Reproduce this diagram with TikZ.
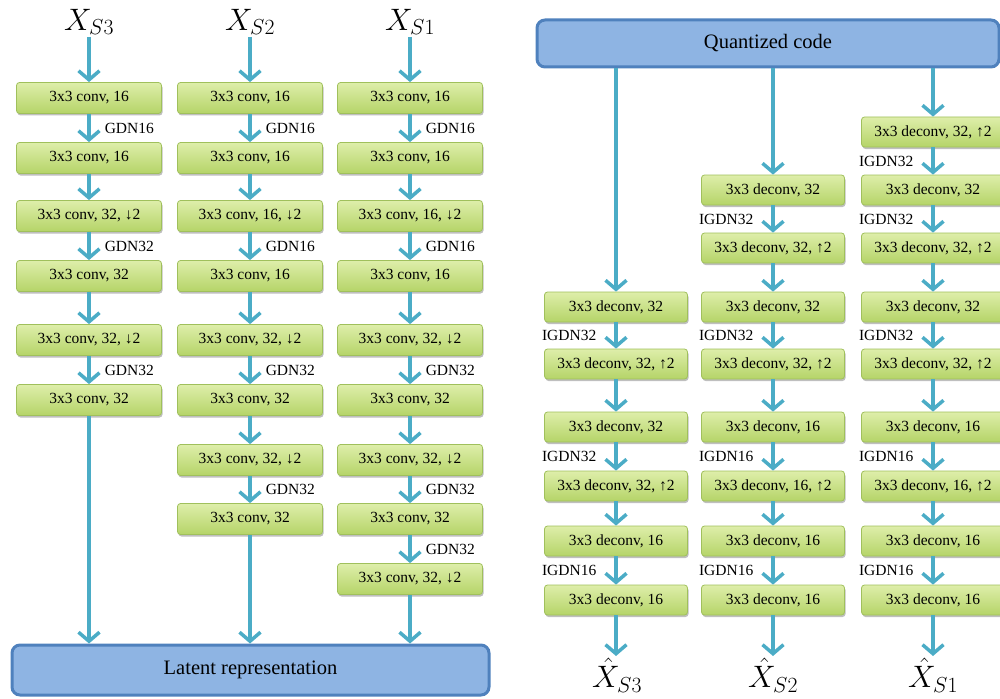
\RequirePackage{fix-cm}
\documentclass[tikz,border=0pt]{standalone}
\usepackage[no-math]{fontspec}
\setmainfont{Liberation Serif}
\newfontfamily\boxfont{Liberation Serif}
\usetikzlibrary{arrows.meta,shadows}
\definecolor{gtop}{RGB}{222,238,170}
\definecolor{gbot}{RGB}{181,212,104}
\definecolor{gborder}{RGB}{160,192,92}
\definecolor{bfill}{RGB}{142,180,227}
\definecolor{bdraw}{RGB}{79,129,189}
\definecolor{arrc}{RGB}{75,172,198}
\tikzset{
  gbox/.style={draw=gborder, line width=0.8pt, rounded corners=3pt, top color=gtop, bottom color=gbot,
    inner sep=0pt, font=\boxfont\fontsize{15.5}{17}\selectfont,
    drop shadow={shadow xshift=1pt, shadow yshift=-2pt, opacity=0.25, fill=black}},
  ebox/.style={gbox, minimum width=145pt, minimum height=31pt},
  dbox/.style={gbox, minimum width=143pt, minimum height=30pt},
  bbox/.style={draw=bdraw, fill=bfill, line width=3pt, rounded corners=8pt, inner sep=0pt,
    font=\boxfont\fontsize{20.5}{23}\selectfont},
  arr/.style={draw=arrc, line width=3.5pt, -{Straight Barb[length=9pt,width=21pt]}},
  glab/.style={right, inner sep=0pt, xshift=14pt, font=\boxfont\fontsize{15.5}{17}\selectfont},
  ilab/.style={left, inner sep=0pt, xshift=-18pt, font=\boxfont\fontsize{15.5}{17}\selectfont},
  mlab/.style={inner sep=0pt, outer sep=2pt, font=\fontsize{31}{33}\selectfont},
}
\begin{document}
\begin{tikzpicture}[x=1pt,y=-1pt]
\useasboundingbox (0,0) rectangle (1000,698);
% ---------------- Encoder ----------------
\node[mlab] (xs3) at (89,22) {$X_{S3}$};
\node[mlab] (xs2) at (250,22) {$X_{S2}$};
\node[mlab] (xs1) at (410,22) {$X_{S1}$};
% column 1
\node[ebox] (e11) at (89,98) {3x3 conv, 16};
\node[ebox] (e12) at (89,158) {3x3 conv, 16};
\node[ebox] (e13) at (89,216) {3x3 conv, 32, ↓2};
\node[ebox] (e14) at (89,276) {3x3 conv, 32};
\node[ebox] (e15) at (89,340) {3x3 conv, 32, ↓2};
\node[ebox] (e16) at (89,400) {3x3 conv, 32};
% column 2
\node[ebox] (e21) at (250,98) {3x3 conv, 16};
\node[ebox] (e22) at (250,158) {3x3 conv, 16};
\node[ebox] (e23) at (250,216) {3x3 conv, 16, ↓2};
\node[ebox] (e24) at (250,276) {3x3 conv, 16};
\node[ebox] (e25) at (250,340) {3x3 conv, 32, ↓2};
\node[ebox] (e26) at (250,400) {3x3 conv, 32};
\node[ebox] (e27) at (250,460) {3x3 conv, 32, ↓2};
\node[ebox] (e28) at (250,519) {3x3 conv, 32};
% column 3
\node[ebox] (e31) at (410,98) {3x3 conv, 16};
\node[ebox] (e32) at (410,158) {3x3 conv, 16};
\node[ebox] (e33) at (410,216) {3x3 conv, 16, ↓2};
\node[ebox] (e34) at (410,276) {3x3 conv, 16};
\node[ebox] (e35) at (410,340) {3x3 conv, 32, ↓2};
\node[ebox] (e36) at (410,400) {3x3 conv, 32};
\node[ebox] (e37) at (410,460) {3x3 conv, 32, ↓2};
\node[ebox] (e38) at (410,519) {3x3 conv, 32};
\node[ebox] (e39) at (410,579) {3x3 conv, 32, ↓2};
\node[bbox, minimum width=477pt, minimum height=50pt] (lat) at (250.5,670) {Latent representation};
% encoder arrows
\draw[arr] (xs3.south) -- (e11.north);
\draw[arr] (xs2.south) -- (e21.north);
\draw[arr] (xs1.south) -- (e31.north);
\draw[arr] (e11.south) -- node[glab] {GDN16} (e12.north);
\draw[arr] (e12.south) -- (e13.north);
\draw[arr] (e13.south) -- node[glab] {GDN32} (e14.north);
\draw[arr] (e14.south) -- (e15.north);
\draw[arr] (e15.south) -- node[glab] {GDN32} (e16.north);
\draw[arr] (e16.south) -- (e16.south |- lat.north);
\draw[arr] (e21.south) -- node[glab] {GDN16} (e22.north);
\draw[arr] (e22.south) -- (e23.north);
\draw[arr] (e23.south) -- node[glab] {GDN16} (e24.north);
\draw[arr] (e24.south) -- (e25.north);
\draw[arr] (e25.south) -- node[glab] {GDN32} (e26.north);
\draw[arr] (e26.south) -- (e27.north);
\draw[arr] (e27.south) -- node[glab] {GDN32} (e28.north);
\draw[arr] (e28.south) -- (e28.south |- lat.north);
\draw[arr] (e31.south) -- node[glab] {GDN16} (e32.north);
\draw[arr] (e32.south) -- (e33.north);
\draw[arr] (e33.south) -- node[glab] {GDN16} (e34.north);
\draw[arr] (e34.south) -- (e35.north);
\draw[arr] (e35.south) -- node[glab] {GDN32} (e36.north);
\draw[arr] (e36.south) -- (e37.north);
\draw[arr] (e37.south) -- node[glab] {GDN32} (e38.north);
\draw[arr] (e38.south) -- node[glab] {GDN32} (e39.north);
\draw[arr] (e39.south) -- (e39.south |- lat.north);
% ---------------- Decoder ----------------
\node[bbox, minimum width=462pt, minimum height=47pt] (q) at (768,43.5) {Quantized code};
% column 1
\node[dbox] (d14) at (616,307) {3x3 deconv, 32};
\node[dbox] (d15) at (616,364) {3x3 deconv, 32, ↑2};
\node[dbox] (d16) at (616,427) {3x3 deconv, 32};
\node[dbox] (d17) at (616,486) {3x3 deconv, 32, ↑2};
\node[dbox] (d18) at (616,541) {3x3 deconv, 16};
\node[dbox] (d19) at (616,600) {3x3 deconv, 16};
% column 2
\node[dbox] (d22) at (773,190) {3x3 deconv, 32};
\node[dbox] (d23) at (773,248) {3x3 deconv, 32, ↑2};
\node[dbox] (d24) at (773,307) {3x3 deconv, 32};
\node[dbox] (d25) at (773,364) {3x3 deconv, 32, ↑2};
\node[dbox] (d26) at (773,427) {3x3 deconv, 16};
\node[dbox] (d27) at (773,486) {3x3 deconv, 16, ↑2};
\node[dbox] (d28) at (773,541) {3x3 deconv, 16};
\node[dbox] (d29) at (773,600) {3x3 deconv, 16};
% column 3
\node[dbox] (d31) at (933,132) {3x3 deconv, 32, ↑2};
\node[dbox] (d32) at (933,190) {3x3 deconv, 32};
\node[dbox] (d33) at (933,248) {3x3 deconv, 32, ↑2};
\node[dbox] (d34) at (933,307) {3x3 deconv, 32};
\node[dbox] (d35) at (933,364) {3x3 deconv, 32, ↑2};
\node[dbox] (d36) at (933,427) {3x3 deconv, 16};
\node[dbox] (d37) at (933,486) {3x3 deconv, 16, ↑2};
\node[dbox] (d38) at (933,541) {3x3 deconv, 16};
\node[dbox] (d39) at (933,600) {3x3 deconv, 16};
\node[mlab] (xh3) at (617,675) {$\hat{X}_{S3}$};
\node[mlab] (xh2) at (773,675) {$\hat{X}_{S2}$};
\node[mlab] (xh1) at (933,675) {$\hat{X}_{S1}$};
% decoder arrows
\draw[arr] (q.south -| d14.north) -- (d14.north);
\draw[arr] (q.south -| d22.north) -- (d22.north);
\draw[arr] (q.south -| d31.north) -- (d31.north);
\draw[arr] (d14.south) -- node[ilab] {IGDN32} (d15.north);
\draw[arr] (d15.south) -- (d16.north);
\draw[arr] (d16.south) -- node[ilab] {IGDN32} (d17.north);
\draw[arr] (d17.south) -- (d18.north);
\draw[arr] (d18.south) -- node[ilab] {IGDN16} (d19.north);
\draw[arr] (d19.south) -- (d19.south |- xh3.north);
\draw[arr] (d22.south) -- node[ilab] {IGDN32} (d23.north);
\draw[arr] (d23.south) -- (d24.north);
\draw[arr] (d24.south) -- node[ilab] {IGDN32} (d25.north);
\draw[arr] (d25.south) -- (d26.north);
\draw[arr] (d26.south) -- node[ilab] {IGDN16} (d27.north);
\draw[arr] (d27.south) -- (d28.north);
\draw[arr] (d28.south) -- node[ilab] {IGDN16} (d29.north);
\draw[arr] (d29.south) -- (d29.south |- xh2.north);
\draw[arr] (d31.south) -- node[ilab] {IGDN32} (d32.north);
\draw[arr] (d32.south) -- node[ilab] {IGDN32} (d33.north);
\draw[arr] (d33.south) -- (d34.north);
\draw[arr] (d34.south) -- node[ilab] {IGDN32} (d35.north);
\draw[arr] (d35.south) -- (d36.north);
\draw[arr] (d36.south) -- node[ilab] {IGDN16} (d37.north);
\draw[arr] (d37.south) -- (d38.north);
\draw[arr] (d38.south) -- node[ilab] {IGDN16} (d39.north);
\draw[arr] (d39.south) -- (d39.south |- xh1.north);
\end{tikzpicture}
\end{document}
